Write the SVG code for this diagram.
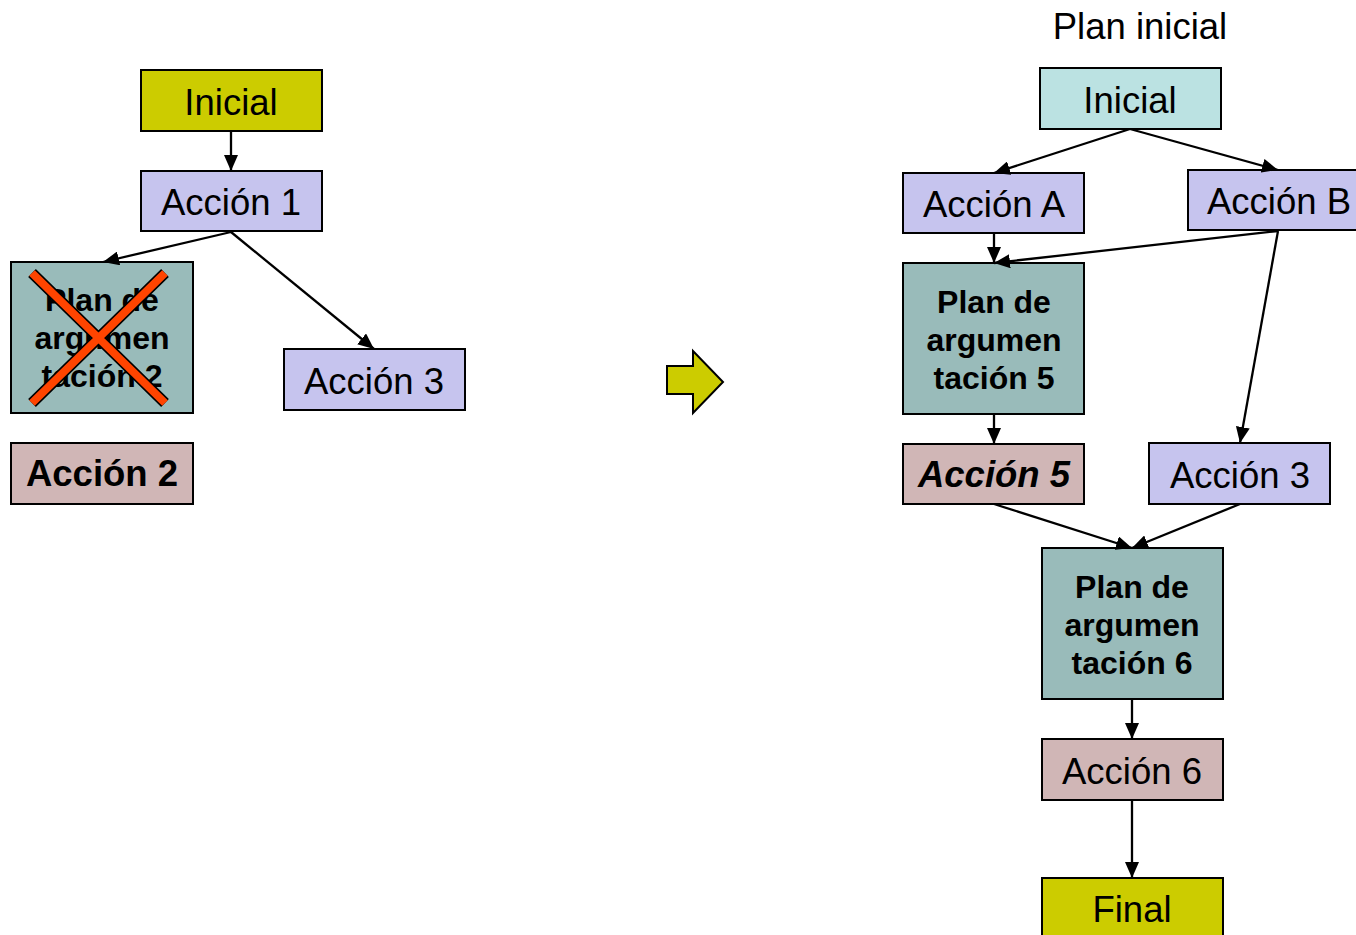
<svg xmlns="http://www.w3.org/2000/svg" width="1356" height="935" viewBox="0 0 1356 935">
  <defs>
    <marker id="ah" viewBox="0 0 16 14" refX="16" refY="7" markerWidth="16" markerHeight="14" markerUnits="userSpaceOnUse" orient="auto">
      <path d="M0,0 L16,7 L0,14 Z" fill="#000"/>
    </marker>
    <style>
      .box { stroke: #000; stroke-width: 2; }
      .yel { fill: #CCCC00; }
      .cyan { fill: #BBE2E2; }
      .lav { fill: #C6C4EE; }
      .plan { fill: #99BBBA; }
      .rose { fill: #D0B6B6; }
      .t { font-family: "Liberation Sans", Arial, sans-serif; font-size: 36.5px; text-anchor: middle; fill: #000; }
      .tb { font-family: "Liberation Sans", Arial, sans-serif; font-size: 32px; font-weight: bold; text-anchor: middle; fill: #000; }
      .ta { font-family: "Liberation Sans", Arial, sans-serif; font-size: 36.5px; font-weight: bold; text-anchor: middle; fill: #000; }
      .edge { stroke: #000; stroke-width: 2.3; fill: none; marker-end: url(#ah); }
    </style>
  </defs>
  <rect width="1356" height="935" fill="#fff"/>

  <!-- left plan -->
  <g id="l-inicial"><rect class="box yel" x="141" y="70" width="181" height="61"/><text class="t" x="231" y="115">Inicial</text></g>
  <g id="l-accion1"><rect class="box lav" x="141" y="171" width="181" height="60"/><text class="t" x="231" y="215">Acción 1</text></g>
  <g id="l-plan2"><rect class="box plan" x="11" y="262" width="182" height="151"/>
    <text class="tb" x="102" y="311">Plan de</text><text class="tb" x="102" y="349">argumen</text><text class="tb" x="102" y="387">tación 2</text></g>
  <g id="l-accion3"><rect class="box lav" x="284" y="349" width="181" height="61"/><text class="t" x="374" y="394">Acción 3</text></g>
  <g id="l-accion2"><rect class="box rose" x="11" y="443" width="182" height="61"/><text class="ta" x="102" y="486">Acción 2</text></g>

  <!-- cross over the discarded plan -->
  <g id="cross">
    <path d="M32,273 L165,403 M165,273 L32,403" stroke="#000" stroke-width="11" stroke-linecap="butt"/>
    <path d="M32,273 L165,403 M165,273 L32,403" stroke="#FF4400" stroke-width="8" stroke-linecap="butt"/>
  </g>

  <!-- transition arrow -->
  <g id="big-arrow"><path d="M667,366 L693,366 L693,351 L723,382 L693,413 L693,394 L667,394 Z" fill="#CCCC00" stroke="#000" stroke-width="2"/></g>

  <!-- right plan -->
  <text class="t" x="1140" y="39">Plan inicial</text>
  <g id="r-inicial"><rect class="box cyan" x="1040" y="68" width="181" height="61"/><text class="t" x="1130" y="113">Inicial</text></g>
  <g id="r-accionA"><rect class="box lav" x="903" y="173" width="181" height="60"/><text class="t" x="994" y="217">Acción A</text></g>
  <g id="r-accionB"><rect class="box lav" x="1188" y="170" width="181" height="60"/><text class="t" x="1279" y="214">Acción B</text></g>
  <g id="r-plan5"><rect class="box plan" x="903" y="263" width="181" height="151"/>
    <text class="tb" x="994" y="313">Plan de</text><text class="tb" x="994" y="351">argumen</text><text class="tb" x="994" y="389">tación 5</text></g>
  <g id="r-accion5"><rect class="box rose" x="903" y="444" width="181" height="60"/><text class="ta" x="994" y="487" style="font-style:italic">Acción 5</text></g>
  <g id="r-accion3"><rect class="box lav" x="1149" y="443" width="181" height="61"/><text class="t" x="1240" y="488">Acción 3</text></g>
  <g id="r-plan6"><rect class="box plan" x="1042" y="548" width="181" height="151"/>
    <text class="tb" x="1132" y="598">Plan de</text><text class="tb" x="1132" y="636">argumen</text><text class="tb" x="1132" y="674">tación 6</text></g>
  <g id="r-accion6"><rect class="box rose" x="1042" y="739" width="181" height="61"/><text class="t" x="1132" y="784">Acción 6</text></g>
  <g id="r-final"><rect class="box yel" x="1042" y="878" width="181" height="62"/><text class="t" x="1132" y="922">Final</text></g>

  <g id="connectors">
    <line class="edge" x1="231" y1="131" x2="231" y2="171"/>
    <line class="edge" x1="231" y1="232" x2="103" y2="262"/>
    <line class="edge" x1="231" y1="232" x2="374" y2="349"/>

    <line class="edge" x1="1130" y1="129" x2="994" y2="173"/>
    <line class="edge" x1="1130" y1="129" x2="1278" y2="170"/>
    <line class="edge" x1="994" y1="233" x2="994" y2="263"/>
    <line class="edge" x1="1278" y1="231" x2="994" y2="263"/>
    <line class="edge" x1="1278" y1="231" x2="1240" y2="443"/>
    <line class="edge" x1="994" y1="414" x2="994" y2="444"/>
    <line class="edge" x1="994" y1="504" x2="1132" y2="548"/>
    <line class="edge" x1="1240" y1="504" x2="1132" y2="548"/>
    <line class="edge" x1="1132" y1="699" x2="1132" y2="739"/>
    <line class="edge" x1="1132" y1="800" x2="1132" y2="878"/>
  </g>
</svg>
